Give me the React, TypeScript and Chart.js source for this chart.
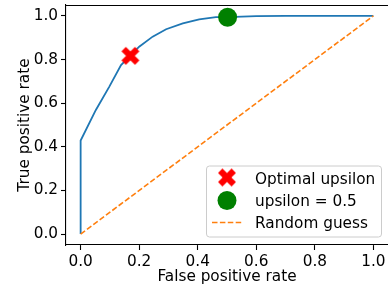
import React, { useEffect, useRef } from "react";
import { Chart, registerables } from "chart.js";

Chart.register(...registerables);

const rocFpr = [0, 0, 0.052, 0.098, 0.138, 0.17, 0.2, 0.246, 0.292, 0.349, 0.405, 0.462, 0.502, 0.6, 0.7, 1.0];
const rocTpr = [0, 0.429, 0.569, 0.676, 0.775, 0.818, 0.859, 0.905, 0.939, 0.966, 0.984, 0.994, 0.994, 0.999, 1.0, 1.0];
const optimalPoint = [0.17, 0.817];
const halfPoint = [0.502, 0.994];
const randomX = [0, 1];
const randomY = [0, 1];
const axisTicks = [0, 0.2, 0.4, 0.6, 0.8, 1.0];
const legendLabels = ["Optimal upsilon", "upsilon = 0.5", "Random guess"];
const xTitle = "False positive rate";
const yTitle = "True positive rate";

const FONT = "'DejaVu Sans', sans-serif";
const FS = 15.3;

function makeXMarker(): HTMLCanvasElement {
  const size = 20;
  const c = document.createElement("canvas");
  c.width = size;
  c.height = size;
  const ctx = c.getContext("2d")!;
  const L = 9.6;
  const w = 3.1;
  const pts = [
    [-w, -L], [w, -L], [w, -w], [L, -w], [L, w], [w, w],
    [w, L], [-w, L], [-w, w], [-L, w], [-L, -w], [-w, -w],
  ];
  ctx.beginPath();
  pts.forEach(([x, y], i) => {
    const rx = (x - y) / Math.SQRT2 + size / 2;
    const ry = (x + y) / Math.SQRT2 + size / 2;
    if (i === 0) ctx.moveTo(rx, ry);
    else ctx.lineTo(rx, ry);
  });
  ctx.closePath();
  ctx.fillStyle = "#ff0000";
  ctx.fill();
  return c;
}

export default function App() {
  const ref = useRef<HTMLCanvasElement>(null);

  useEffect(() => {
    if (!ref.current) return;
    const xMarker = makeXMarker();

    const framePlugin = {
      id: "frameAndLegend",
      afterDraw(chart: any) {
        const { ctx, chartArea } = chart;
        ctx.save();
        // top spine
        ctx.strokeStyle = "#000";
        ctx.lineWidth = 1.1;
        ctx.beginPath();
        ctx.moveTo(chartArea.left, chartArea.top + 0.5);
        ctx.lineTo(chartArea.right, chartArea.top + 0.5);
        ctx.stroke();

        // legend box
        const bx = 206.5, by = 166, bw = 175, bh = 71, r = 3;
        ctx.beginPath();
        ctx.moveTo(bx + r, by);
        ctx.lineTo(bx + bw - r, by);
        ctx.arcTo(bx + bw, by, bx + bw, by + r, r);
        ctx.lineTo(bx + bw, by + bh - r);
        ctx.arcTo(bx + bw, by + bh, bx + bw - r, by + bh, r);
        ctx.lineTo(bx + r, by + bh);
        ctx.arcTo(bx, by + bh, bx, by + bh - r, r);
        ctx.lineTo(bx, by + r);
        ctx.arcTo(bx, by, bx + r, by, r);
        ctx.closePath();
        ctx.fillStyle = "rgba(255,255,255,0.8)";
        ctx.fill();
        ctx.strokeStyle = "#cccccc";
        ctx.lineWidth = 1;
        ctx.stroke();

        const mx = 227;
        const rows = [177.5, 200.5, 222.5];
        ctx.drawImage(xMarker, mx - 10, rows[0] - 10);
        ctx.beginPath();
        ctx.arc(mx, rows[1], 9.5, 0, Math.PI * 2);
        ctx.fillStyle = "#008000";
        ctx.fill();
        ctx.beginPath();
        ctx.setLineDash([5.5, 2.4]);
        ctx.strokeStyle = "#ff7f0e";
        ctx.lineWidth = 1.6;
        ctx.moveTo(212, rows[2]);
        ctx.lineTo(242, rows[2]);
        ctx.stroke();
        ctx.setLineDash([]);

        ctx.fillStyle = "#000";
        ctx.font = `${FS}px ${FONT}`;
        ctx.textBaseline = "alphabetic";
        ctx.textAlign = "left";
        const baselines = [184, 206, 228];
        legendLabels.forEach((t, i) => ctx.fillText(t, 255, baselines[i]));
        ctx.restore();
      },
    };

    const tickFont = { family: FONT, size: FS };

    const chart = new Chart(ref.current, {
      type: "scatter",
      data: {
        datasets: [
          {
            label: legendLabels[0],
            data: [{ x: optimalPoint[0], y: optimalPoint[1] }],
            pointStyle: xMarker as any,
            pointRadius: 10,
            backgroundColor: "#ff0000",
            borderColor: "#ff0000",
            showLine: false,
            order: 0,
          },
          {
            label: legendLabels[1],
            data: [{ x: halfPoint[0], y: halfPoint[1] }],
            pointStyle: "circle",
            pointRadius: 9.5,
            borderWidth: 0,
            backgroundColor: "#008000",
            borderColor: "#008000",
            showLine: false,
            order: 1,
          },
          {
            label: legendLabels[2],
            data: randomX.map((x, i) => ({ x, y: randomY[i] })),
            showLine: true,
            borderColor: "#ff7f0e",
            borderWidth: 1.6,
            borderDash: [5.5, 2.4],
            pointRadius: 0,
            order: 2,
          },
          {
            label: "ROC",
            data: rocFpr.map((x, i) => ({ x, y: rocTpr[i] })),
            showLine: true,
            borderColor: "#1f77b4",
            borderWidth: 1.8,
            pointRadius: 0,
            tension: 0,
            order: 3,
          },
        ],
      },
      options: {
        animation: false,
        responsive: false,
        devicePixelRatio: 1,
        layout: { autoPadding: false, padding: { top: 5, right: 0, left: 0, bottom: 0 } },
        plugins: {
          legend: { display: false },
          tooltip: { enabled: false },
        },
        scales: {
          x: {
            type: "linear",
            min: -0.05,
            max: 1.05,
            afterBuildTicks: (s: any) => {
              s.ticks = axisTicks.map((v) => ({ value: v }));
            },
            afterFit: (s: any) => {
              s.height = 41;
              s.paddingLeft = 0;
              s.paddingRight = 0;
            },
            ticks: {
              callback: (v: any) => Number(v).toFixed(1),
              font: tickFont,
              color: "#000",
              padding: 2.5,
              maxRotation: 0,
              autoSkip: false,
            },
            grid: {
              display: true,
              drawOnChartArea: false,
              drawTicks: true,
              tickLength: 5,
              tickColor: "#000",
              tickWidth: 1.1,
            },
            border: { display: true, color: "#000", width: 1.1 },
            title: {
              display: true,
              text: xTitle,
              font: tickFont,
              color: "#000",
              padding: { top: 0, bottom: 0 },
            },
          },
          y: {
            type: "linear",
            min: -0.05,
            max: 1.05,
            afterBuildTicks: (s: any) => {
              s.ticks = axisTicks.map((v) => ({ value: v }));
            },
            afterFit: (s: any) => {
              s.width = 66;
              s.paddingTop = 0;
              s.paddingBottom = 0;
            },
            ticks: {
              callback: (v: any) => Number(v).toFixed(1),
              font: tickFont,
              color: "#000",
              padding: 3,
              autoSkip: false,
            },
            grid: {
              display: true,
              drawOnChartArea: false,
              drawTicks: true,
              tickLength: 5,
              tickColor: "#000",
              tickWidth: 1.1,
            },
            border: { display: true, color: "#000", width: 1.1 },
            title: {
              display: true,
              text: yTitle,
              font: tickFont,
              color: "#000",
              padding: { top: 16, bottom: 0 },
            },
          },
        },
      },
      plugins: [framePlugin],
    });

    return () => chart.destroy();
  }, []);

  return (
    <div style={{ position: "absolute", left: 0, top: 0, width: 388, height: 286 }}>
      <canvas ref={ref} width={388} height={286} style={{ display: "block" }} />
    </div>
  );
}
